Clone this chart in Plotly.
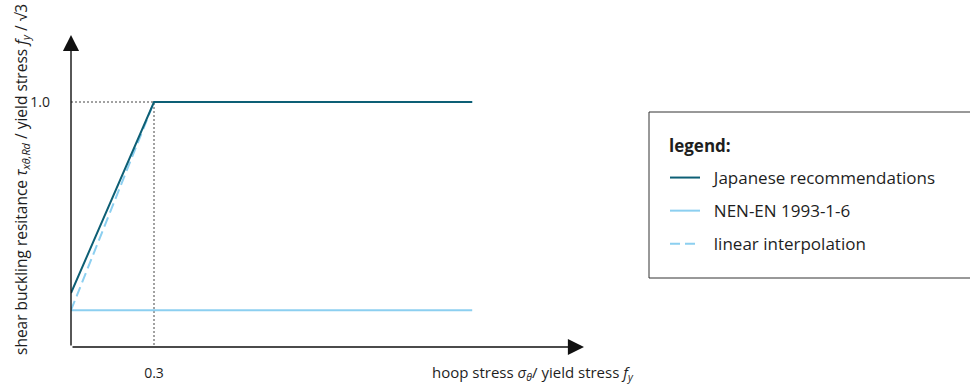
import plotly.graph_objects as go

# Normalised hoop stress (x) and shear buckling resistance (y)
x_japanese = [0.0, 0.3, 1.45]
y_japanese = [0.22, 1.0, 1.0]

x_nen = [0.0, 1.45]
y_nen = [0.15, 0.15]

x_interp = [0.0, 0.3, 1.45]
y_interp = [0.15, 1.0, 1.0]

x_ticks = [0.3]
x_tick_text = ["0.3"]
y_ticks = [1.0]
y_tick_text = ["1.0"]

x_max = 1.854
y_max = 1.2735

DARK = "#0d5f75"
LIGHT = "#8ccff0"
TEXT = "#1e1e1e"
FONT = "Open Sans"
GAP = "\u00a0\u00a0"

# plot-area pixel geometry, used to place paper-referenced items
L, R_PX, T, B_PX = 71, 584, 35, 347
W, H = R_PX - L, B_PX - T


def px(xp):
    return (xp - L) / W


def py(yp):
    return (B_PX - yp) / H


fig = go.Figure()

# dotted guides to the knee point
fig.add_trace(go.Scatter(
    x=[0.0, x_ticks[0], x_ticks[0]], y=[y_ticks[0], y_ticks[0], 0.0],
    mode="lines", line=dict(color="#444444", width=1, dash="2px,2px"),
    showlegend=False, hoverinfo="skip"))

fig.add_trace(go.Scatter(
    x=x_nen, y=y_nen, mode="lines", name=GAP + "NEN-EN 1993-1-6",
    line=dict(color=LIGHT, width=2), legendrank=2, legendgroup="b"))

fig.add_trace(go.Scatter(
    x=x_interp, y=y_interp, mode="lines", name=GAP + "linear interpolation",
    line=dict(color=LIGHT, width=2, dash="10px,5px"), legendrank=3, legendgroup="c"))

fig.add_trace(go.Scatter(
    x=x_japanese, y=y_japanese, mode="lines", name=GAP + "Japanese recommendations",
    line=dict(color=DARK, width=2), legendrank=1, legendgroup="a"))

# axes drawn as arrows from the origin
for tip_x, tip_y in [(x_max, 0), (0, y_max)]:
    fig.add_annotation(x=tip_x, y=tip_y, ax=0, ay=0, xref="x", yref="y",
                       axref="x", ayref="y", text="", showarrow=True,
                       arrowhead=2, arrowsize=2.3, arrowwidth=1.4,
                       arrowcolor="#111111", standoff=0)

# axis titles
fig.add_annotation(
    x=px(636), y=py(373), xref="paper", yref="paper",
    xanchor="right", yanchor="middle", showarrow=False,
    text="hoop stress <i>σ<sub>θ</sub></i>/ yield stress <i>f<sub>y</sub></i>",
    font=dict(family=FONT, size=15, color=TEXT))
fig.add_annotation(
    x=px(21), y=py(180), xref="paper", yref="paper",
    xanchor="center", yanchor="middle", showarrow=False, textangle=-90,
    text="shear buckling resitance <i>τ<sub>xθ,Rd</sub></i> / yield stress <i>f<sub>y</sub></i> / √3",
    font=dict(family=FONT, size=15.5, color=TEXT))

# legend frame and heading
fig.add_shape(type="rect", xref="paper", yref="paper",
              x0=px(649), x1=px(990), y0=py(278), y1=py(112),
              line=dict(color="#333333", width=1), fillcolor="rgba(0,0,0,0)")
fig.add_annotation(
    x=px(667), y=py(145), xref="paper", yref="paper",
    xanchor="left", yanchor="middle", showarrow=False,
    text="<b>legend:</b>", font=dict(family=FONT, size=17, color=TEXT))

fig.update_xaxes(range=[0, x_max], showgrid=False, zeroline=False, showline=False,
                 tickvals=x_ticks, ticktext=x_tick_text, ticks="",
                 ticklabelstandoff=16, automargin=False,
                 tickfont=dict(family=FONT, size=14, color=TEXT))
fig.update_yaxes(range=[0, y_max], showgrid=False, zeroline=False, showline=False,
                 tickvals=y_ticks, ticktext=y_tick_text, ticks="",
                 ticklabelstandoff=20, automargin=False,
                 tickfont=dict(family=FONT, size=14, color=TEXT))

fig.update_layout(
    width=970, height=384, autosize=False,
    margin=dict(l=L, r=970 - R_PX, t=T, b=384 - B_PX, autoexpand=False),
    plot_bgcolor="white", paper_bgcolor="white",
    font=dict(family=FONT, size=17, color=TEXT),
    showlegend=True,
    legend=dict(
        x=px(665), y=py(160), xanchor="left", yanchor="top",
        bgcolor="rgba(0,0,0,0)", borderwidth=0, itemwidth=30,
        font=dict(family=FONT, size=17, color=TEXT),
        tracegroupgap=8, traceorder="grouped"),
)

fig.write_html("out.html")
